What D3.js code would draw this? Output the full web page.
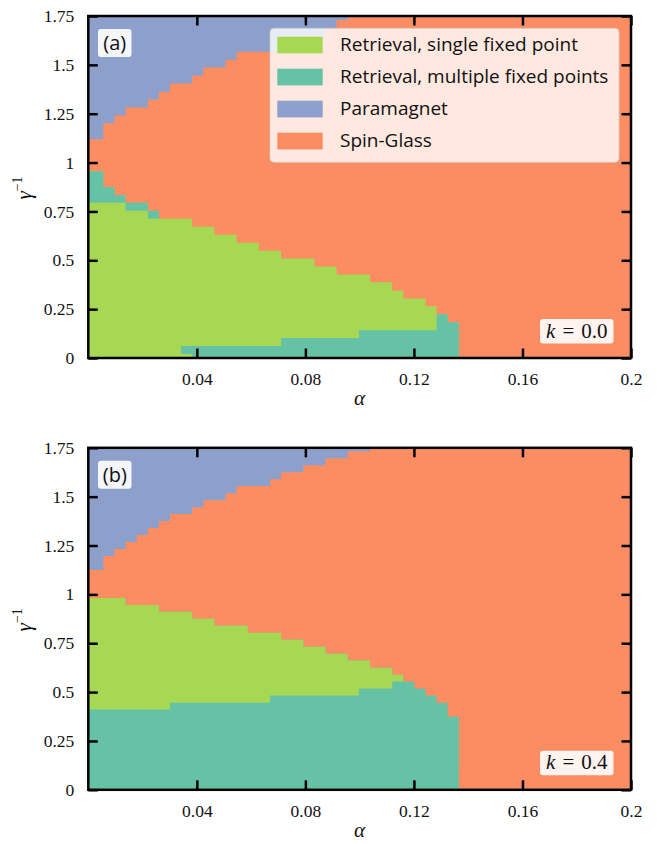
<!DOCTYPE html>
<html><head><meta charset="utf-8">
<script src="https://cdn.jsdelivr.net/npm/d3@7"></script>
<style>
body{margin:0;background:#fff} svg{display:block}
</style>
</head><body>
<svg id="chart" width="657" height="844"></svg>
<script>
// ---------- labels / ticks ----------
const phaseNames = ["Retrieval, single fixed point","Retrieval, multiple fixed points","Paramagnet","Spin-Glass"];
const phaseColors = ["#a6d854","#66c2a5","#8da0cb","#fc8d62"];
const xTickValues = [0.04,0.08,0.12,0.16,0.2];
const xTickLabels = ["0.04","0.08","0.12","0.16","0.2"];
const yTickValues = [0,0.25,0.5,0.75,1,1.25,1.5,1.75];
const yTickLabels = ["0","0.25","0.5","0.75","1","1.25","1.5","1.75"];
const panelTags = ["(a)","(b)"];
const kValues = ["0.0","0.4"];

// ---------- panel (a), k = 0.0 : boundaries as [alpha, 1/gamma] step breakpoints ----------
const paraBoundA = [[0,1.119],[0.00555,1.201],[0.00964,1.241],[0.01374,1.282],[0.02193,1.323],[0.02602,1.363],[0.03011,1.404],[0.03830,1.445],[0.04240,1.486],[0.05058,1.526],[0.05468,1.567],[0.07924,1.648],[0.08743,1.689],[0.09152,1.730],[0.09562,1.75]];
const retrBoundA = [[0,0.956],[0.00555,0.875],[0.00964,0.834],[0.01374,0.794],[0.02193,0.753],[0.02602,0.712],[0.03830,0.672],[0.04649,0.631],[0.05468,0.590],[0.06287,0.549],[0.07105,0.509],[0.08334,0.468],[0.09152,0.427],[0.10381,0.387],[0.11199,0.346],[0.11609,0.305],[0.12428,0.265],[0.12837,0.224],[0.13246,0.183],[0.13656,0]];
const multiUpperLowA = [[0,0.794],[0.01374,0.753],[0.02193,0.712]];   // lower edge of the upper multi-fixed-point strip
const multiUpperEndA = 0.02602;
const multiLowerBaseA = [[0.03421,0.020],[0.03830,0]];
const multiLowerTopA = [[0.03421,0.061],[0.07105,0.102],[0.09971,0.142],[0.12837,0.224],[0.13246,0.183]];
const multiLowerStartA = 0.03421, multiLowerEndA = 0.13656;

// ---------- panel (b), k = 0.4 ----------
const paraBoundB = [[0,1.125],[0.00555,1.196],[0.00964,1.232],[0.01374,1.268],[0.01783,1.304],[0.02193,1.339],[0.02602,1.375],[0.03011,1.411],[0.03830,1.446],[0.04240,1.482],[0.05058,1.518],[0.05468,1.554],[0.06696,1.589],[0.07105,1.625],[0.07924,1.661],[0.08743,1.696],[0.09562,1.732],[0.10381,1.75]];
const retrBoundB = [[0,0.982],[0.01374,0.946],[0.02602,0.911],[0.03830,0.875],[0.04649,0.839],[0.05877,0.804],[0.07105,0.768],[0.07924,0.732],[0.08743,0.696],[0.09562,0.661],[0.10381,0.625],[0.11199,0.589],[0.11609,0.554],[0.12018,0.518],[0.12428,0.482],[0.12837,0.446],[0.13246,0.375],[0.13656,0]];
const singleLowB = [[0,0.411],[0.03011,0.446],[0.06696,0.482],[0.09971,0.518],[0.11199,0.554]]; // multi/single boundary
const singleEndB = 0.11609;
const retrEnd = 0.13656;

// ---------- helpers ----------
const SERIF = '"Liberation Serif", "DejaVu Serif", serif';
const SANS = '"Open Sans", "Noto Sans", sans-serif';
const svg = d3.select("#chart");
const x = d3.scaleLinear().domain([0,0.2]).range([88.3,631]);

function stepAt(br, a){
  let v = br[0][1];
  for (const [bx,by] of br){ if (bx <= a + 1e-9) v = by; else break; }
  return v;
}
function band(lo, hi, a0, a1){
  const s = new Set([a0]);
  for (const [bx] of lo.concat(hi)) if (bx > a0 && bx < a1) s.add(bx);
  const pts = [...s].sort((p,q)=>p-q).map(a => ({a, lo: stepAt(lo,a), hi: stepAt(hi,a)}));
  const last = pts[pts.length-1];
  pts.push({a:a1, lo:last.lo, hi:last.hi});
  return pts;
}

function drawPanel(idx, top, d){
  const H = 342;
  const y = d3.scaleLinear().domain([0,1.75]).range([top+H, top]);
  const g = svg.append("g");
  const clipId = "clip"+idx;
  g.append("clipPath").attr("id",clipId).append("rect")
    .attr("x",x(0)).attr("y",y(1.75)).attr("width",x(0.2)-x(0)).attr("height",y(0)-y(1.75));
  const area = d3.area().x(p=>x(p.a)).y0(p=>y(p.lo)).y1(p=>y(p.hi)).curve(d3.curveStepAfter);
  const pg = g.append("g").attr("clip-path",`url(#${clipId})`);
  pg.append("path").attr("fill",phaseColors[2]).attr("d", area(band([[0,0]],[[0,1.75]],0,0.2)));
  pg.append("path").attr("fill",phaseColors[3]).attr("d", area(band([[0,0]],d.para,0,0.2)));
  d.layers.forEach(L => {
    pg.append("path").attr("fill",phaseColors[L.c]).attr("d", area(band(L.lo,L.hi,L.a0,L.a1)));
  });
  // axes
  const tl = 9.5;
  const ax = g.append("g");
  ax.append("g").attr("transform",`translate(0,${y(0)})`)
    .call(d3.axisBottom(x).tickValues(xTickValues).tickFormat((v,i)=>xTickLabels[i]).tickSize(-tl).tickPadding(15));
  ax.append("g").attr("transform",`translate(0,${y(1.75)})`)
    .call(d3.axisTop(x).tickValues(xTickValues).tickFormat("").tickSize(-tl));
  ax.append("g").attr("transform",`translate(${x(0)},0)`)
    .call(d3.axisLeft(y).tickValues(yTickValues).tickFormat((v,i)=>yTickLabels[i]).tickSize(-tl).tickPadding(14));
  ax.append("g").attr("transform",`translate(${x(0.2)},0)`)
    .call(d3.axisRight(y).tickValues(yTickValues).tickFormat("").tickSize(-tl));
  ax.selectAll(".domain").remove();
  ax.selectAll(".tick line").attr("stroke","#000").attr("stroke-width",2.5);
  ax.selectAll(".tick text").attr("fill","#111").style("font-family",SERIF).style("font-size","17.5px");
  // frame
  g.append("rect").attr("x",x(0)).attr("y",y(1.75)).attr("width",x(0.2)-x(0)).attr("height",y(0)-y(1.75))
    .attr("fill","none").attr("stroke","#000").attr("stroke-width",2.5);
  // panel tag
  g.append("rect").attr("x",98).attr("y",top+13).attr("width",33.5).attr("height",28).attr("rx",3).attr("fill","#fff").attr("fill-opacity",0.9);
  g.append("text").attr("x",114.8).attr("y",top+34).attr("text-anchor","middle")
    .style("font-family",SANS).style("font-size","20px").attr("fill","#111").text(panelTags[idx]);
  // k box
  g.append("rect").attr("x",540).attr("y",top+H-39).attr("width",73.5).attr("height",24.5).attr("rx",3).attr("fill","#fff").attr("fill-opacity",0.9);
  const kt = g.append("text").attr("x",576.8).attr("y",top+H-20.5).attr("text-anchor","middle")
    .style("font-family",SERIF).style("font-size","21px").attr("fill","#111");
  kt.append("tspan").attr("font-style","italic").text("k");
  kt.append("tspan").attr("dx",7).text("=");
  kt.append("tspan").attr("dx",7).text(kValues[idx]);
  // axis labels
  g.append("text").attr("x",359.6).attr("y",top+H+47).attr("text-anchor","middle")
    .attr("font-style","italic").style("font-family",SERIF).style("font-size","21px").attr("fill","#111").text("α");
  const yl = g.append("text").attr("transform",`translate(31,${top+172}) rotate(-90)`).attr("text-anchor","middle")
    .style("font-family",SERIF).style("font-size","21px").attr("fill","#111");
  yl.append("tspan").attr("font-style","italic").text("γ");
  yl.append("tspan").style("font-size","14px").attr("dy",-9).text("−1");
}

drawPanel(0, 16, {
  para: paraBoundA,
  layers: [
    {c:0, lo:[[0,0]], hi:retrBoundA, a0:0, a1:retrEnd},
    {c:1, lo:multiUpperLowA, hi:retrBoundA, a0:0, a1:multiUpperEndA},
    {c:1, lo:multiLowerBaseA, hi:multiLowerTopA, a0:multiLowerStartA, a1:multiLowerEndA}
  ]
});
drawPanel(1, 447.8, {
  para: paraBoundB,
  layers: [
    {c:1, lo:[[0,0]], hi:retrBoundB, a0:0, a1:retrEnd},
    {c:0, lo:singleLowB, hi:retrBoundB, a0:0, a1:singleEndB}
  ]
});

// legend (panel a)
const lg = svg.append("g").attr("transform","translate(270,28.3)");
lg.append("rect").attr("x",0).attr("y",0).attr("width",349).attr("height",134).attr("rx",4)
  .attr("fill","#fff").attr("fill-opacity",0.8).attr("stroke","#cccccc").attr("stroke-opacity",0.8).attr("stroke-width",1);
const legTexts = phaseNames.map((n,i)=>{
  lg.append("rect").attr("x",7.3).attr("y",8.4+i*32).attr("width",45.4).attr("height",16.7).attr("fill",phaseColors[i]);
  return lg.append("text").attr("x",70).attr("y",22.8+i*32)
    .style("font-family",SANS).style("font-size","17px").attr("fill","#111").text(n);
});
// fit legend font so the first entry matches the reference width (~240px)
const w0 = legTexts[0].node().getComputedTextLength();
const fs = Math.max(14, Math.min(19, 17*240/w0));
legTexts.forEach(t=>t.style("font-size",fs.toFixed(2)+"px"));
</script>
</body></html>
